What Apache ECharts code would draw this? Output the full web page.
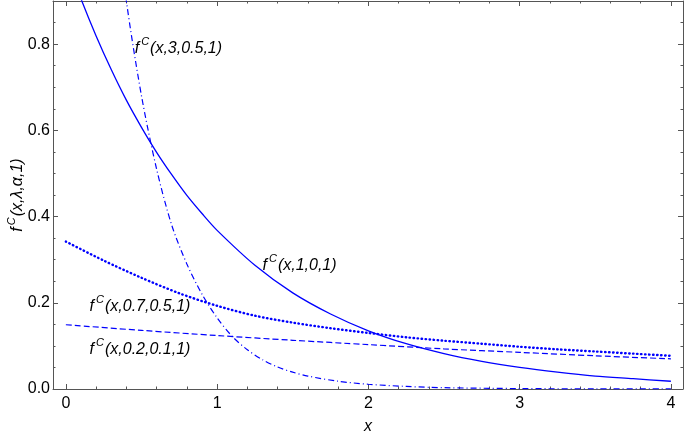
<!DOCTYPE html>
<html><head><meta charset="utf-8">
<script src="https://cdn.jsdelivr.net/npm/echarts@6/dist/echarts.min.js"></script>
<style>html,body{margin:0;padding:0;background:#fff}#c{width:685px;height:435px}</style>
</head><body><div id="c"></div>
<script>
// f^C(x,1,0,1) – solid
const xSolid = [0, 0.1, 0.2, 0.3, 0.4, 0.5, 0.6, 0.7, 0.8, 0.9, 1.0, 1.25, 1.5, 1.75, 2.0, 2.25, 2.5, 2.75, 3.0, 3.25, 3.5, 3.75, 4.0];
const ySolid = [1.0, 0.905, 0.819, 0.741, 0.670, 0.607, 0.549, 0.497, 0.449, 0.407, 0.368, 0.287, 0.223, 0.174, 0.135, 0.105, 0.082, 0.064, 0.050, 0.039, 0.030, 0.024, 0.018];
// f^C(x,0.7,0.5,1) – dotted
const xDotted = [0, 0.25, 0.5, 0.75, 1.0, 1.25, 1.5, 1.75, 2.0, 2.25, 2.5, 2.75, 3.0, 3.25, 3.5, 3.75, 4.0];
const yDotted = [0.342, 0.298, 0.258, 0.222, 0.193, 0.170, 0.154, 0.141, 0.130, 0.120, 0.112, 0.105, 0.098, 0.092, 0.087, 0.082, 0.077];
// f^C(x,0.2,0.1,1) – dashed
const xDashed = [0, 0.5, 1.0, 1.5, 2.0, 2.5, 3.0, 3.5, 4.0];
const yDashed = [0.149, 0.136, 0.124, 0.113, 0.103, 0.093, 0.085, 0.077, 0.070];
// f^C(x,3,0.5,1) – dash-dot
const xDashDot = [0.35, 0.4, 0.5, 0.6, 0.7, 0.8, 0.9, 1.0, 1.1, 1.2, 1.3, 1.4, 1.5, 1.6, 1.8, 2.0, 2.25, 2.5, 3.0, 3.5, 4.0];
const yDashDot = [1.06, 0.90, 0.68, 0.51, 0.38, 0.29, 0.22, 0.165, 0.122, 0.091, 0.068, 0.051, 0.039, 0.030, 0.018, 0.011, 0.006, 0.003, 0.001, 0.0003, 0.0001];

const xMajor = [0, 1, 2, 3, 4];
const xMinor = [0.2,0.4,0.6,0.8,1.2,1.4,1.6,1.8,2.2,2.4,2.6,2.8,3.2,3.4,3.6,3.8];
const yMajor = [0, 0.2, 0.4, 0.6, 0.8];
const yMinor = [0.05,0.1,0.15,0.25,0.3,0.35,0.45,0.5,0.55,0.65,0.7,0.75,0.85];

const curveLabels = [
  {params: '(x,3,0.5,1)', x: 0.455, y: 0.795},
  {params: '(x,1,0,1)', x: 1.30, y: 0.292},
  {params: '(x,0.7,0.5,1)', x: 0.157, y: 0.195},
  {params: '(x,0.2,0.1,1)', x: 0.157, y: 0.097}
];

const blue = '#0000ff';
const frame = '#555';
const font = "'Liberation Sans', Arial, sans-serif";
const xMin = -0.085, xMax = 4.08, yMin = 0, yMax = 0.9;

function zip(a, b) { return a.map((v, i) => [v, b[i]]); }

function mkX(pos, ticks, len, labels, line) {
  return {
    type: 'value', position: pos, min: xMin, max: xMax,
    axisLine: {show: line, onZero: false, lineStyle: {color: frame, width: 1}},
    axisTick: {show: true, inside: true, length: len, customValues: ticks, lineStyle: {color: frame, width: 1}},
    axisLabel: labels ? {show: true, customValues: xMajor, color: '#000', fontSize: 16, fontFamily: font, margin: 7, formatter: v => String(Math.round(v))} : {show: false},
    splitLine: {show: false}
  };
}
function mkY(pos, ticks, len, labels, line) {
  return {
    type: 'value', position: pos, min: yMin, max: yMax,
    axisLine: {show: line, onZero: false, lineStyle: {color: frame, width: 1}},
    axisTick: {show: true, inside: true, length: len, customValues: ticks, lineStyle: {color: frame, width: 1}},
    axisLabel: labels ? {show: true, customValues: yMajor, color: '#000', fontSize: 16, fontFamily: font, margin: 3, formatter: v => v.toFixed(1)} : {show: false},
    splitLine: {show: false}
  };
}

const xAxes = [mkX('bottom', xMajor, 5, true, true), mkX('bottom', xMinor, 2.5, false, false), mkX('top', xMajor, 5, false, true), mkX('top', xMinor, 2.5, false, false)];
xAxes[0].name = 'x';
xAxes[0].nameLocation = 'middle';
xAxes[0].nameGap = 30;
xAxes[0].nameMoveOverlap = false;
xAxes[0].nameTextStyle = {fontSize: 16, fontStyle: 'italic', fontFamily: font, color: '#000'};
const richY = {
  i: {fontSize: 16, fontStyle: 'italic', fontFamily: font, color: '#000', lineHeight: 20, verticalAlign: 'bottom'},
  s: {fontSize: 11, fontStyle: 'italic', fontFamily: font, color: '#000', lineHeight: 12, verticalAlign: 'top', padding: [0, 1, 0, 2]}
};
const yAxes = [mkY('left', yMajor, 5, true, true), mkY('left', yMinor, 2.5, false, false), mkY('right', yMajor, 5, false, true), mkY('right', yMinor, 2.5, false, false)];
yAxes[0].name = '{i|f}{s|C}{i|(x,λ,α,1)}';
yAxes[0].nameLocation = 'middle';
yAxes[0].nameGap = 27;
yAxes[0].nameMoveOverlap = false;
yAxes[0].nameTextStyle = {rich: richY};

function line(xs, ys, type, width, cap) {
  return {type: 'line', xAxisIndex: 0, yAxisIndex: 0, data: zip(xs, ys), showSymbol: false, symbol: 'none',
    smooth: 0.3, clip: true,
    lineStyle: {color: blue, width: width, type: type, cap: cap || 'butt'}};
}

const chart = echarts.init(document.getElementById('c'), null, {renderer: 'canvas'});
chart.setOption({
  animation: false,
  backgroundColor: '#fff',
  grid: {left: 53, right: 2, top: 1, bottom: 46, outerBoundsMode: 'none'},
  xAxis: xAxes,
  yAxis: yAxes,
  series: [
    line(xSolid, ySolid, 'solid', 1.3),
    line(xDotted, yDotted, [0.5, 3.5], 2.4, 'round'),
    line(xDashed, yDashed, [6, 3], 1.2),
    line(xDashDot, yDashDot, [6, 3, 1, 3], 1.2)
  ]
});

const richL = {
  i: {fontSize: 16, fontStyle: 'italic', fontFamily: font, fill: '#000', lineHeight: 20, verticalAlign: 'bottom'},
  s: {fontSize: 11, fontStyle: 'italic', fontFamily: font, fill: '#000', lineHeight: 12, verticalAlign: 'top', padding: [0, 1, 0, 2]}
};
const gfx = curveLabels.map(l => {
  const p = chart.convertToPixel({xAxisIndex: 0, yAxisIndex: 0}, [l.x, l.y]);
  return {
    type: 'text', x: p[0], y: p[1],
    style: {text: '{i|f}{s|C}{i|' + l.params + '}', verticalAlign: 'middle', align: 'left', rich: richL}
  };
});
chart.setOption({graphic: gfx});
</script></body></html>
